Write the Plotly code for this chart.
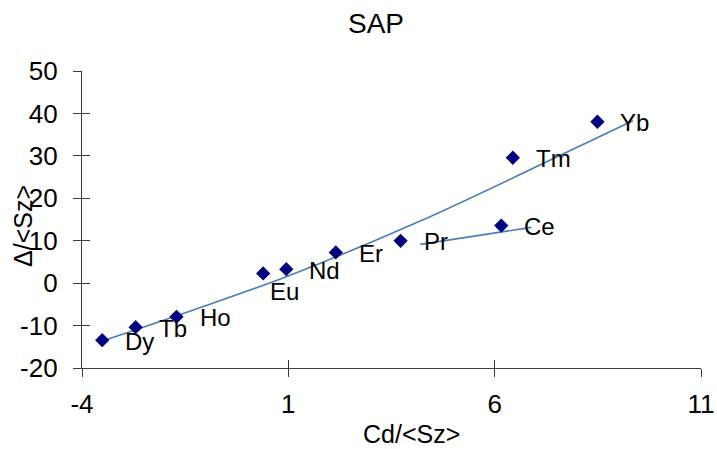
import plotly.graph_objects as go

# ---- data ----
elements = ["Dy", "Tb", "Ho", "Eu", "Nd", "Er", "Pr", "Ce", "Tm", "Yb"]
cd_sz = [-3.51, -2.70, -1.71, 0.39, 0.95, 2.15, 3.72, 6.16, 6.44, 8.49]
delta_sz = [-13.44, -10.38, -7.95, 2.29, 3.30, 7.24, 9.98, 13.56, 29.55, 38.04]

# trend lines
trend1_x = [-3.40, -1.39, 0.95, 4.14, 7.58, 9.35]
trend1_y = [-13.28, -6.60, 1.53, 14.39, 30.07, 38.28]
trend2_x = [4.20, 6.89]
trend2_y = [9.13, 13.14]

x_ticks = [-4, 1, 6, 11]
y_ticks = [-20, -10, 0, 10, 20, 30, 40, 50]

title_text = "SAP"
x_title = "Cd/<Sz>"
y_title = "Δ/<Sz>"

FONT = "Liberation Sans, Arial, sans-serif"
AXC = "#3a3a3a"

fig = go.Figure()
fig.add_trace(go.Scatter(x=trend1_x, y=trend1_y, mode="lines",
                         line=dict(color="#4A7EBB", width=1.6, shape="spline"),
                         hoverinfo="skip", showlegend=False))
fig.add_trace(go.Scatter(x=trend2_x, y=trend2_y, mode="lines",
                         line=dict(color="#4A7EBB", width=1.6),
                         hoverinfo="skip", showlegend=False))
fig.add_trace(go.Scatter(x=cd_sz, y=delta_sz, mode="markers",
                         marker=dict(symbol="diamond", size=11, color="#000080"),
                         showlegend=False))
# invisible trace so the overlay axes (inner half of the cross ticks) are drawn
fig.add_trace(go.Scatter(x=[x_ticks[0]], y=[y_ticks[0]], xaxis="x2", yaxis="y2",
                         mode="markers", marker=dict(opacity=0),
                         hoverinfo="skip", showlegend=False))

annotations = []
for name, xv, yv in zip(elements, cd_sz, delta_sz):
    if name == "Eu":
        xs, ys = 5, -18
    else:
        xs, ys = 21, -1
    annotations.append(dict(x=xv, y=yv, xref="x", yref="y", text=name,
                            showarrow=False, xanchor="left", yanchor="middle",
                            xshift=xs, yshift=ys,
                            font=dict(family=FONT, size=24, color="#000")))

W, H = 717, 449
L, R, T, B = 82, 16, 71, 81
pw, ph = W - L - R, H - T - B

def px_x(p):
    return (p - L) / pw

def px_y(p):
    return 1 - (p - T) / ph

annotations.append(dict(x=px_x(376), y=px_y(24), xref="paper", yref="paper",
                        text=title_text, showarrow=False, xanchor="center",
                        yanchor="middle", font=dict(family=FONT, size=28, color="#000")))
annotations.append(dict(x=px_x(411), y=px_y(434), xref="paper", yref="paper",
                        text=x_title, showarrow=False, xanchor="center",
                        yanchor="middle", font=dict(family=FONT, size=25, color="#000")))
annotations.append(dict(x=px_x(23), y=px_y(226), xref="paper", yref="paper",
                        text=y_title, showarrow=False, xanchor="center",
                        yanchor="middle", textangle=-90,
                        font=dict(family=FONT, size=25, color="#000")))

axis_common = dict(showgrid=False, zeroline=False, showline=True, automargin=False,
                   linecolor=AXC, linewidth=1.3, ticks="outside", ticklen=8,
                   tickwidth=1.3, tickcolor=AXC,
                   tickfont=dict(family=FONT, size=26, color="#000"))
overlay_common = dict(showticklabels=False, showgrid=False, automargin=False,
                      zeroline=False, showline=False, ticks="inside", ticklen=8,
                      tickwidth=1.3, tickcolor=AXC)

fig.update_layout(
    width=W, height=H,
    margin=dict(l=L, r=R, t=T, b=B),
    paper_bgcolor="white", plot_bgcolor="white",
    showlegend=False,
    xaxis=dict(range=[-4, 11], tickvals=x_ticks, ticktext=[str(v) for v in x_ticks],
               ticklabelstandoff=5, **axis_common),
    yaxis=dict(range=[-20, 50], tickvals=y_ticks, ticktext=[str(v) for v in y_ticks],
               ticklabelstandoff=10, **axis_common),
    xaxis2=dict(range=[-4, 11], overlaying="x", anchor="y2", side="bottom",
                tickvals=x_ticks, **overlay_common),
    yaxis2=dict(range=[-20, 50], overlaying="y", anchor="x2", side="left",
                tickvals=y_ticks, **overlay_common),
    annotations=annotations,
)

fig.write_html("out.html")
